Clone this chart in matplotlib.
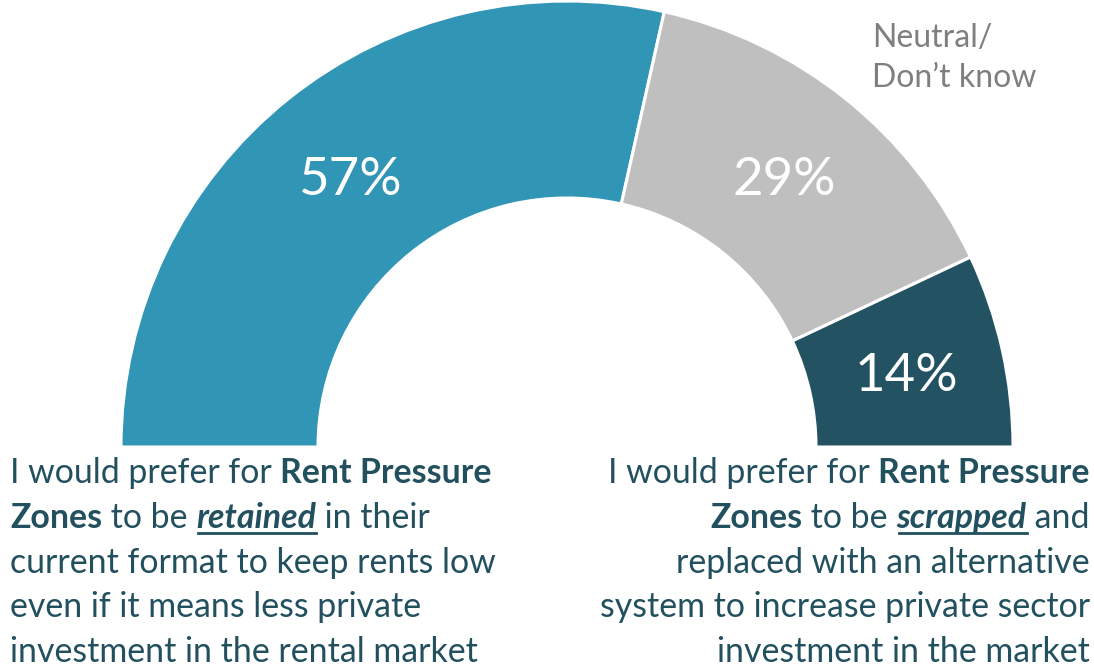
import matplotlib
matplotlib.use('Agg')
import matplotlib.pyplot as plt
import numpy as np

# dane
labels = ['Retained', 'Neutral/ Don\u2019t know', 'Scrapped']
values = [57, 29, 14]
colors = ['#3195B5', '#BFBFBF', '#235363']
pct_labels = ['57%', '29%', '14%']

W, H = 1094, 669
plt.rcParams['font.family'] = ['Lato', 'DejaVu Sans']
TXT = '#22505E'

fig = plt.figure(figsize=(W / 100, H / 100), dpi=100)
ax = fig.add_axes([0, 0, 1, 1])

cx, cy = 567, H - 447
R, width = 446, 197
wedges, _ = ax.pie(values + [sum(values)], colors=colors + ['none'], startangle=180,
                   counterclock=False, radius=R, center=(cx, cy),
                   wedgeprops=dict(width=width, edgecolor='white', linewidth=2.2))
wedges[-1].set_edgecolor('none')
ax.set_xlim(0, W)
ax.set_ylim(0, H)
ax.set_aspect('equal')
ax.axis('off')

# procenty w srodku pierscienia
for w, t in zip(wedges[:3], pct_labels):
    a = np.deg2rad((w.theta1 + w.theta2) / 2)
    r = R - width / 2
    ax.text(cx + r * np.cos(a), cy + r * np.sin(a) - 5, t, color='white', fontsize=38,
            ha='center', va='center')

ax.text(872, H - 58, 'Neutral/\nDon\u2019t know', color='#7F7F7F', fontsize=23,
        ha='left', va='center', linespacing=1.38)

# opisy pod wykresem
left_lines = [
    [('I would prefer for ', 'n'), ('Rent Pressure', 'b')],
    [('Zones', 'b'), (' to be ', 'n'), ('retained', 'u'), (' in their', 'n')],
    [('current format to keep rents low', 'n')],
    [('even if it means less private', 'n')],
    [('investment in the rental market', 'n')],
]
right_lines = [
    [('I would prefer for ', 'n'), ('Rent Pressure', 'b')],
    [('Zones', 'b'), (' to be ', 'n'), ('scrapped', 'u'), (' and', 'n')],
    [('replaced with an alternative', 'n')],
    [('system to increase private sector', 'n')],
    [('investment in the market', 'n')],
]
baselines = [483, 528, 573, 617, 662]
fs = 24.4
renderer = fig.canvas.get_renderer()


def style(kind):
    if kind == 'b':
        return dict(fontweight='bold')
    if kind == 'u':
        return dict(fontweight='bold', fontstyle='italic')
    return {}


def seg_width(s, kind):
    t = ax.text(0, 0, s.replace(' ', '\u00a0'), fontsize=fs, **style(kind))
    bb = t.get_window_extent(renderer)
    t.remove()
    return bb.width


def draw_line(parts, x, y, align):
    widths = [seg_width(s, k) for s, k in parts]
    if align == 'right':
        x = x - sum(widths)
    for (s, k), wd in zip(parts, widths):
        ax.text(x, y, s.replace(' ', '\u00a0'), fontsize=fs, color=TXT,
                ha='left', va='baseline', **style(k))
        if k == 'u':
            ax.plot([x + 2, x + wd], [y - 5, y - 5], color=TXT, lw=2)
        x += wd


for parts, b in zip(left_lines, baselines):
    draw_line(parts, 10, H - b, 'left')
for parts, b in zip(right_lines, baselines):
    draw_line(parts, 1090, H - b, 'right')

fig.savefig('out.png', dpi=100)
